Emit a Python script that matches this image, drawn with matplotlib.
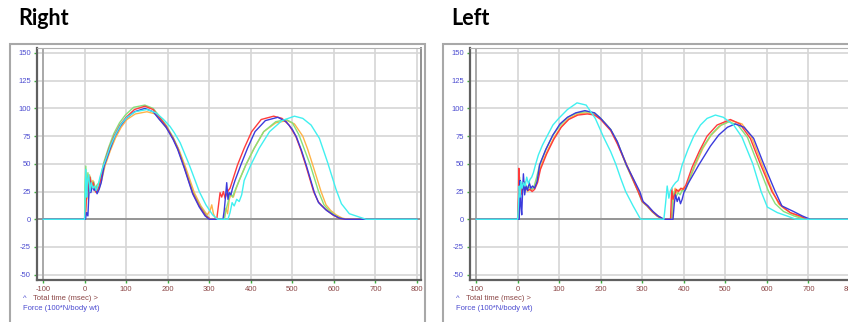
import matplotlib.pyplot as plt
from matplotlib.patches import Rectangle

# ---- data (time in msec, force in 100*N/body wt) ----
# Right side
r_red_t = [-100, 0, 2, 4, 7, 10, 13, 17, 21, 25, 28, 33, 38, 46, 58, 71, 85, 100, 120, 145, 165, 180, 196, 213, 224, 240, 260, 276, 292, 303,
           318, 322, 326, 330, 334, 338, 342, 346, 350, 356, 368, 384, 402, 425, 455, 475, 492, 508, 520, 532, 551, 562, 569, 580, 597, 612, 626, 800]
r_red_f = [0, 0, 4, 18, 34, 25, 38, 29, 33, 26, 24, 28, 34, 49, 63, 75, 85, 92, 99, 102, 99, 92, 84, 73, 64, 47, 24, 12, 3, 0,
           0, 12, 24, 20, 25, 19, 23, 26, 28, 35, 49, 64, 79, 90, 93, 91, 85, 75, 63, 49, 25, 16, 13, 9, 4, 1, 0, 0]

r_blue_t = [-100, 2, 5, 8, 10, 12, 15, 19, 23, 27, 30, 35, 40, 47, 60, 72, 86, 100, 120, 145, 165, 180, 196, 213, 224, 240, 260, 276, 290, 300,
            333, 336, 339, 342, 345, 348, 352, 356, 362, 376, 392, 410, 435, 465, 485, 500, 510, 522, 534, 553, 563, 571, 582, 598, 613, 628, 800]
r_blue_f = [0, 0, 6, 3, 20, 35, 24, 30, 26, 28, 23, 27, 33, 48, 62, 74, 84, 91, 97, 100, 97, 90, 83, 72, 63, 46, 23, 11, 3, 0,
            0, 8, 20, 33, 18, 24, 22, 28, 35, 49, 64, 79, 89, 92, 88, 81, 74, 62, 48, 24, 15, 12, 8, 4, 1, 0, 0]

r_orange_t = [-100, 0, 3, 6, 9, 12, 16, 20, 24, 28, 32, 36, 41, 49, 62, 74, 88, 102, 122, 150, 170, 185, 200, 217, 228, 244, 264, 280, 295, 302, 306, 310, 316,
              336, 340, 344, 348, 352, 358, 364, 372, 388, 408, 431, 460, 487, 505, 525, 537, 549, 569, 581, 592, 605, 620, 633, 800]
r_orange_f = [0, 0, 8, 26, 18, 40, 28, 35, 27, 30, 25, 29, 35, 48, 62, 73, 83, 90, 95, 97, 95, 88, 81, 70, 62, 46, 24, 12, 4, 8, 13, 5, 0,
              0, 10, 5, 18, 22, 20, 27, 35, 49, 64, 79, 87, 89, 86, 75, 63, 49, 25, 13, 8, 4, 1, 0, 0]

r_green_t = [-100, 0, 1, 3, 5, 8, 11, 14, 18, 22, 26, 30, 35, 40, 46, 58, 70, 84, 98, 118, 145, 165, 180, 196, 213, 224, 240, 260, 276, 292, 303,
             336, 340, 345, 350, 356, 362, 372, 388, 408, 431, 460, 485, 500, 516, 530, 543, 563, 576, 588, 601, 615, 629, 800]
r_green_f = [0, 0, 30, 48, 22, 42, 30, 38, 28, 34, 27, 31, 33, 40, 51, 65, 77, 87, 94, 101, 103, 100, 93, 85, 74, 65, 48, 25, 13, 4, 0,
             0, 8, 15, 24, 20, 26, 35, 49, 64, 79, 88, 90, 87, 76, 62, 49, 25, 13, 8, 4, 1, 0, 0]

r_cyan_t = [-100, 0, 1, 3, 5, 7, 10, 13, 16, 20, 24, 28, 32, 37, 43, 50, 62, 75, 88, 102, 122, 150, 172, 190, 205, 216, 230, 252, 276, 292, 308, 320,
            345, 350, 355, 360, 366, 372, 378, 384, 400, 420, 445, 475, 505, 525, 545, 565, 585, 605, 618, 637, 661, 677, 800]
r_cyan_f = [0, 0, 10, 45, 20, 35, 40, 25, 33, 28, 30, 26, 30, 38, 46, 53, 66, 77, 86, 92, 97, 99, 96, 90, 84, 78, 69, 49, 25, 13, 4, 0,
            0, 6, 15, 12, 18, 16, 22, 35, 49, 64, 79, 89, 93, 91, 85, 73, 51, 27, 14, 5, 2, 0, 0]

# Left side
l_red_t = [-100, 0, 2, 3, 5, 8, 12, 16, 20, 25, 30, 35, 41, 48, 55, 70, 87, 105, 123, 145, 168, 185, 200, 224, 240, 262, 290, 300, 312, 324, 336, 350,
           368, 371, 374, 378, 382, 387, 393, 399, 405, 420, 438, 456, 480, 512, 535, 560, 584, 612, 632, 656, 680, 696, 800]
l_red_f = [0, 0, 20, 46, 28, 22, 30, 27, 29, 26, 27, 25, 27, 33, 45, 59, 72, 83, 90, 94, 95, 94, 90, 80, 68, 49, 25, 16, 12, 7, 3, 0,
           0, 28, 18, 22, 27, 25, 28, 27, 31, 47, 62, 75, 85, 90, 86, 73, 50, 25, 13, 6, 3, 0, 0]

l_blue_t = [-100, 4, 6, 8, 10, 12, 14, 17, 20, 24, 28, 32, 36, 41, 47, 53, 68, 85, 102, 120, 140, 162, 185, 200, 224, 240, 262, 294, 302, 314, 326, 338, 352,
            374, 377, 380, 384, 388, 392, 396, 400, 410, 436, 464, 484, 505, 524, 545, 568, 592, 620, 636, 664, 685, 704, 800]
l_blue_f = [0, 0, 35, 12, 4, 25, 41, 22, 30, 26, 33, 28, 30, 28, 34, 49, 63, 76, 86, 92, 96, 98, 96, 91, 81, 70, 49, 25, 16, 12, 7, 3, 0,
            0, 14, 22, 16, 20, 14, 18, 24, 32, 49, 66, 76, 83, 86, 83, 73, 50, 25, 12, 7, 3, 0, 0]

l_orange_t = [-100, 2, 4, 6, 9, 12, 16, 20, 24, 28, 33, 38, 43, 50, 57, 72, 88, 106, 124, 145, 166, 185, 200, 224, 240, 263, 292, 301, 313, 325, 338, 352,
              372, 375, 379, 384, 389, 395, 400, 405, 414, 428, 446, 466, 490, 515, 540, 563, 588, 614, 628, 640, 660, 680, 700, 800]
l_orange_f = [0, 0, 14, 30, 24, 32, 26, 29, 25, 27, 26, 28, 30, 40, 49, 62, 74, 84, 91, 95, 96, 95, 91, 81, 69, 49, 25, 16, 12, 7, 3, 0,
              0, 20, 28, 23, 27, 26, 29, 27, 36, 49, 64, 76, 85, 89, 86, 74, 50, 25, 14, 10, 5, 2, 0, 0]

l_green_t = [-100, 1, 3, 5, 7, 10, 14, 18, 22, 26, 30, 35, 40, 46, 53, 68, 85, 103, 121, 143, 165, 185, 200, 224, 240, 261, 290, 299, 311, 323, 335, 348,
             370, 373, 377, 381, 386, 391, 396, 402, 410, 426, 444, 465, 485, 508, 530, 553, 578, 604, 620, 640, 665, 690, 800]
l_green_f = [0, 0, 25, 38, 22, 32, 28, 34, 27, 30, 28, 27, 30, 38, 49, 63, 76, 85, 92, 96, 97, 96, 91, 81, 70, 49, 25, 16, 12, 7, 3, 0,
             0, 18, 25, 20, 24, 22, 26, 25, 33, 49, 64, 76, 84, 88, 85, 74, 50, 25, 14, 7, 3, 0, 0]

l_cyan_t = [-100, 0, 2, 4, 6, 8, 11, 14, 18, 22, 26, 30, 34, 38, 43, 50, 60, 71, 85, 99, 120, 143, 165, 187, 207, 224, 236, 248, 260, 278, 296,
            352, 356, 360, 364, 368, 374, 380, 386, 396, 410, 424, 440, 456, 476, 495, 520, 540, 566, 586, 601, 625, 648, 670, 800]
l_cyan_f = [0, 0, 12, 30, 20, 34, 28, 33, 30, 38, 32, 36, 38, 42, 49, 58, 67, 75, 85, 91, 99, 105, 103, 91, 74, 61, 50, 37, 25, 12, 0,
            0, 14, 30, 19, 26, 30, 33, 35, 49, 63, 75, 85, 91, 94, 92, 85, 74, 50, 25, 11, 6, 3, 0, 0]

x_ticks = [-100, 0, 100, 200, 300, 400, 500, 600, 700, 800]
y_ticks = [-50, -25, 0, 25, 50, 75, 100, 125, 150]

colors = {'orange': '#ffb347', 'green': '#86e07a', 'red': '#ff3b3b', 'blue': '#3b3bdc', 'cyan': '#40f0f0'}

right = {'orange': (r_orange_t, r_orange_f), 'green': (r_green_t, r_green_f), 'red': (r_red_t, r_red_f),
         'blue': (r_blue_t, r_blue_f), 'cyan': (r_cyan_t, r_cyan_f)}
left = {'orange': (l_orange_t, l_orange_f), 'green': (l_green_t, l_green_f), 'red': (l_red_t, l_red_f),
        'blue': (l_blue_t, l_blue_f), 'cyan': (l_cyan_t, l_cyan_f)}

plt.rcParams['font.family'] = ['Liberation Sans', 'DejaVu Sans']
plt.rcParams['axes.unicode_minus'] = False

W, H = 848, 322
fig = plt.figure(figsize=(W / 100, H / 100), dpi=100)


def panel(x0, title, traces):
    # outer grey box (bottom runs off the picture)
    fig.add_artist(Rectangle((x0 / W, -0.1), 415 / W, (322 - 44) / H + 0.1, transform=fig.transFigure,
                             fill=False, edgecolor='#a8a8a8', lw=1.5))
    ax = fig.add_axes([(x0 + 27) / W, 42 / H, 384 / W, 232 / H])
    for c, (t, f) in traces.items():
        ax.plot(t, f, color=colors[c], lw=1.0)
    ax.set_xlim(-114.5, 809.5)
    ax.set_ylim(-54.8, 154.5)
    ax.set_xticks(x_ticks)
    ax.set_yticks(y_ticks)
    ax.grid(True, color='#d6d6d6', lw=1.2)
    ax.set_axisbelow(True)
    ax.axhline(0, color='#8a8a8a', lw=1.2, zorder=1)
    ax.axvline(-100, color='#a0a0a0', lw=1.2, zorder=1)
    ax.tick_params(direction='out', length=2.5, width=1, color='#3fae3f', labelsize=5.5, pad=2)
    for lab in ax.get_yticklabels():
        lab.set_color('#4b4bd0')
    for lab in ax.get_xticklabels():
        lab.set_color('#8b4646')
    ax.spines['left'].set_color('#606060')
    ax.spines['left'].set_linewidth(1.6)
    ax.spines['bottom'].set_color('#606060')
    ax.spines['bottom'].set_linewidth(1.6)
    ax.spines['top'].set_color('#b0b0b0')
    ax.spines['right'].set_color('#909090')
    ax.spines['right'].set_linewidth(1.4)

    # titles and axis captions
    fig.text((x0 + 8) / W, 1 - 25 / H, title, fontsize=15.5, fontweight='bold', family=['Lato', 'DejaVu Sans'], va='baseline')
    fig.text((x0 + 13) / W, 1 - 299 / H, '^', fontsize=5.5, color='#4b4bd0', va='center')
    fig.text((x0 + 23) / W, 1 - 299 / H, 'Total time (msec) >', fontsize=5.5, color='#8b4646', va='center')
    fig.text((x0 + 13) / W, 1 - 309 / H, 'Force (100*N/body wt)', fontsize=5.5, color='#4b4bd0', va='center')
    return ax


panel(10, 'Right', right)
panel(443, 'Left', left)

plt.savefig('out.png', dpi=100)
